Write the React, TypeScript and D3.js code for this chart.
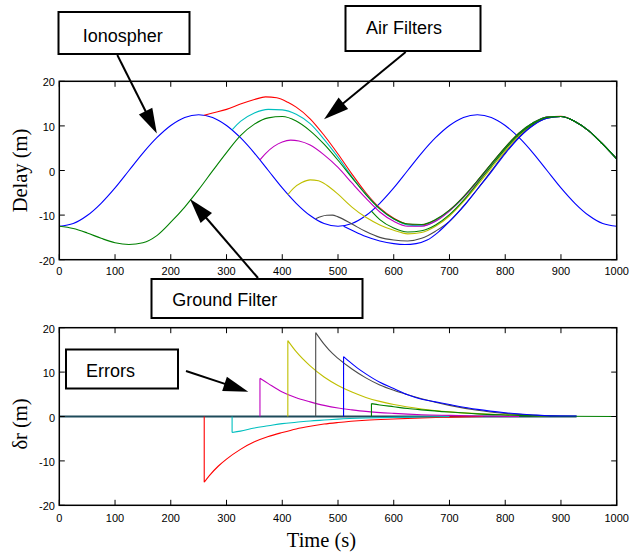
import React from 'react';
import * as d3 from 'd3';

type Pt = [number, number];

// ---------- data ----------
const timeTicks = [0, 100, 200, 300, 400, 500, 600, 700, 800, 900, 1000];
const valueTicks = [-20, -10, 0, 10, 20];

const ionosphere: Pt[] = [
  [0, -12.5], [25, -11.9], [50, -10.1], [75, -7.35], [100, -3.9], [125, 0], [150, 3.9], [175, 7.35],
  [200, 10.1], [225, 11.9], [250, 12.5], [275, 11.9], [300, 10.1], [325, 7.35], [350, 3.9], [375, 0],
  [400, -3.9], [425, -7.35], [450, -10.1], [475, -11.9], [500, -12.5], [525, -11.9], [550, -10.1],
  [575, -7.35], [600, -3.9], [625, 0], [650, 3.9], [675, 7.35], [700, 10.1], [725, 11.9], [750, 12.5],
  [775, 11.9], [800, 10.1], [825, 7.35], [850, 3.9], [875, 0], [900, -3.9], [925, -7.35], [950, -10.1],
  [975, -11.9], [1000, -12.5],
];

const groundFilter: Pt[] = [
  [0, -12.5], [25, -13.0], [50, -14.0], [75, -15.2], [100, -16.2], [125, -16.6], [150, -16.2], [175, -14.6],
  [200, -11.6], [225, -8.2], [250, -4.3], [275, -0.1], [300, 4.0], [325, 7.8], [350, 10.4], [375, 11.8],
  [400, 12.1], [425, 11.1], [450, 8.9], [475, 5.9], [500, 2.3], [525, -1.6], [550, -5.4], [575, -8.6],
  [600, -10.8], [625, -12.0], [650, -12.1], [675, -11.0], [700, -8.9], [725, -5.9], [750, -2.3], [775, 1.5],
  [800, 5.2], [825, 8.4], [850, 10.7], [875, 12.0], [900, 12.1], [925, 11.0], [950, 8.9], [975, 5.9], [1000, 2.6],
];

const airRed: Pt[] = [
  [260, 12.4], [275, 12.9], [300, 13.7], [325, 14.9], [350, 15.9], [370, 16.5], [390, 16.3], [410, 15.3],
  [425, 14.2], [450, 11.6], [475, 7.9], [500, 3.7], [525, -0.8], [550, -5.0], [575, -8.4], [600, -10.7],
  [625, -12.0], [650, -12.2], [675, -11.1], [700, -8.9], [725, -5.9], [750, -2.3], [775, 1.5], [800, 5.2],
  [825, 8.4], [850, 10.7], [875, 12.0], [900, 12.15], [925, 11.0], [950, 8.9], [975, 5.9], [1000, 2.6],
];
const airCyan: Pt[] = [
  [310, 9.1], [325, 11.0], [350, 12.9], [375, 13.7], [400, 13.6], [425, 12.6], [450, 10.5], [475, 7.0],
  [500, 3.0], [525, -1.4], [550, -5.3], [575, -8.6], [600, -10.9], [625, -12.2], [650, -12.4], [675, -11.3],
  [700, -9.0], [725, -6.0], [750, -2.4], [775, 1.4], [800, 5.1], [825, 8.4], [850, 10.7], [875, 12.0],
  [900, 12.1], [925, 11.0], [950, 8.9], [975, 5.9], [1000, 2.6],
];
const airMagenta: Pt[] = [
  [360, 2.4], [370, 3.8], [385, 5.4], [400, 6.4], [415, 6.8], [430, 6.6], [450, 5.7], [475, 3.5],
  [500, 0.7], [525, -2.8], [550, -6.2], [575, -9.3], [600, -11.4], [625, -12.5], [650, -12.5], [675, -11.4],
  [700, -9.1], [725, -6.1], [750, -2.5], [775, 1.4], [800, 5.1], [825, 8.3], [850, 10.6], [875, 12.0],
  [900, 12.1], [925, 11.0], [950, 8.9], [975, 5.9], [1000, 2.6],
];
const airYellow: Pt[] = [
  [410, -5.4], [420, -4.0], [435, -2.7], [450, -2.1], [465, -2.3], [480, -3.3], [500, -5.3], [525, -8.2],
  [550, -10.5], [575, -12.2], [600, -13.4], [625, -14.2], [650, -13.9], [675, -12.5], [700, -10.2],
  [725, -7.0], [750, -3.3], [775, 0.6], [800, 4.4], [825, 7.8], [850, 10.3], [875, 11.8], [900, 12.1],
  [925, 11.0], [950, 8.9], [975, 5.9], [1000, 2.6],
];
const airGray: Pt[] = [
  [460, -10.8], [470, -10.3], [480, -10.05], [490, -10.0], [500, -10.4], [525, -12.0], [550, -13.7],
  [575, -15.0], [600, -15.6], [625, -15.8], [650, -15.2], [675, -13.6], [700, -11.4], [725, -8.0],
  [750, -4.2], [775, -0.1], [800, 4.0], [825, 7.5], [850, 10.2], [875, 11.7], [900, 12.1], [925, 11.0],
  [950, 8.9], [975, 5.9], [1000, 2.6],
];
const airBlue: Pt[] = [
  [510, -12.5], [525, -13.4], [550, -14.8], [575, -15.8], [600, -16.4], [620, -16.6], [640, -16.4],
  [660, -15.6], [680, -13.8], [700, -11.4], [725, -8.1], [750, -4.2], [775, -0.3], [800, 3.8], [825, 7.4],
  [850, 10.1], [875, 11.7], [900, 12.1], [925, 11.0], [950, 8.9], [975, 5.9], [1000, 2.6],
];
const airGreen: Pt[] = [
  [560, -9.1], [575, -11.0], [600, -12.9], [625, -13.8], [650, -13.5], [675, -12.2], [700, -9.9],
  [725, -6.7], [750, -2.9], [775, 1.0], [800, 4.8], [825, 8.1], [850, 10.5], [875, 11.9], [900, 12.1],
  [925, 11.0], [950, 8.9], [975, 5.9], [1000, 2.6],
];

const errRed: Pt[] = [
  [260, -14.8], [270, -13.2], [285, -11.2], [300, -9.6], [325, -7.4], [350, -5.7], [375, -4.5], [400, -3.6],
  [425, -2.8], [450, -2.2], [475, -1.7], [500, -1.35], [550, -0.85], [600, -0.55], [650, -0.3], [700, -0.15], [760, 0],
];
const errCyan: Pt[] = [
  [310, -3.6], [325, -3.3], [350, -2.6], [375, -2.1], [400, -1.6], [425, -1.3], [450, -1.0], [475, -0.8],
  [500, -0.6], [550, -0.35], [600, -0.2], [650, -0.1], [700, 0],
];
const errMagenta: Pt[] = [
  [360, 8.6], [375, 7.4], [400, 5.5], [425, 4.2], [450, 3.3], [475, 2.5], [500, 1.9], [525, 1.5],
  [550, 1.15], [600, 0.7], [650, 0.4], [700, 0.25], [750, 0.12], [825, 0],
];
const errYellow: Pt[] = [
  [410, 17.1], [425, 14.6], [450, 11.4], [475, 8.9], [500, 7.0], [525, 5.5], [550, 4.3], [575, 3.4],
  [600, 2.7], [650, 1.7], [700, 1.05], [750, 0.65], [800, 0.4], [850, 0.2], [880, 0],
];
const errGray: Pt[] = [
  [460, 18.9], [475, 16.3], [490, 14.2], [500, 13.1], [525, 10.7], [550, 8.7], [575, 7.1], [600, 5.9],
  [625, 4.9], [650, 4.0], [700, 2.5], [750, 1.4], [800, 0.7], [850, 0.3], [880, 0.15], [900, 0],
];
const errBlue: Pt[] = [
  [510, 13.5], [520, 12.4], [535, 10.9], [550, 9.6], [575, 7.7], [600, 6.3], [625, 4.9], [650, 3.9],
  [675, 3.3], [700, 2.7], [750, 1.6], [800, 0.85], [850, 0.35], [880, 0.15], [928, 0.1],
];
const errGreen: Pt[] = [
  [560, 2.9], [575, 2.6], [600, 2.2], [625, 1.8], [650, 1.5], [700, 1.0], [750, 0.6], [800, 0.35],
  [850, 0.15], [900, 0.05], [1000, 0],
];

// annotation anchors (data coordinates of arrow tips)
const ionoTip: Pt = [175, 8.3];
const airTip: Pt = [475, 11.5];
const groundTip: Pt = [234.5, -6.4];
const errorsTip: Pt = [339, 5.6];

// ---------- styles ----------
const C = {
  red: '#ff0000', cyan: '#00bfbf', magenta: '#bf00bf', yellow: '#bfbf00',
  gray: '#4a4a4a', blue: '#0000ff', green: '#008000', base: '#1e4b5a',
};

const W = 630, H = 553;
const X0 = 59.3, X1 = 616.7;
const TOP = { y0: 81.3, y1: 259.7, lab: 15.5 };
const BOT = { y0: 327.7, y1: 505.3, lab: 17 };
const SANS = '"Liberation Sans", Arial, Helvetica, sans-serif';
const SERIF = '"Liberation Serif", "Times New Roman", serif';

function Frame({ x, y, panel }: { x: d3.ScaleLinear<number, number>; y: d3.ScaleLinear<number, number>; panel: typeof TOP }) {
  const tl = 5.5;
  return (
    <g>
      {timeTicks.map((t) => (
        <g key={'xt' + t}>
          <line x1={x(t)} x2={x(t)} y1={panel.y1} y2={panel.y1 - tl} stroke="#000" strokeWidth={1} />
          <line x1={x(t)} x2={x(t)} y1={panel.y0} y2={panel.y0 + tl} stroke="#000" strokeWidth={1} />
          <text x={x(t)} y={panel.y1 + panel.lab} fontSize={11} fontFamily={SANS} textAnchor="middle">{t}</text>
        </g>
      ))}
      {valueTicks.map((v) => (
        <g key={'yt' + v}>
          <line x1={X0} x2={X0 + tl} y1={y(v)} y2={y(v)} stroke="#000" strokeWidth={1} />
          <line x1={X1} x2={X1 - tl} y1={y(v)} y2={y(v)} stroke="#000" strokeWidth={1} />
          <text x={55} y={y(v) + 5} fontSize={11} fontFamily={SANS} textAnchor="end">{v}</text>
        </g>
      ))}
      <rect x={X0} y={panel.y0} width={X1 - X0} height={panel.y1 - panel.y0} fill="none" stroke="#000" strokeWidth={1.5} />
    </g>
  );
}

function Arrow({ x1, y1, x2, y2 }: { x1: number; y1: number; x2: number; y2: number }) {
  const len = 25, hw = 7.5;
  const dx = x2 - x1, dy = y2 - y1;
  const d = Math.hypot(dx, dy);
  const ux = dx / d, uy = dy / d;
  const bx = x2 - ux * len, by = y2 - uy * len;
  const pts = `${x2},${y2} ${bx - uy * hw},${by + ux * hw} ${bx + uy * hw},${by - ux * hw}`;
  return (
    <g>
      <line x1={x1} y1={y1} x2={bx + ux * 2} y2={by + uy * 2} stroke="#000" strokeWidth={2} />
      <polygon points={pts} fill="#000" />
    </g>
  );
}

function Box({ x, y, w, h, label, tx, ty }: { x: number; y: number; w: number; h: number; label: string; tx: number; ty: number }) {
  return (
    <g>
      <rect x={x} y={y} width={w} height={h} fill="#fff" stroke="#000" strokeWidth={2} />
      <text x={tx} y={ty} fontSize={18} fontFamily={SANS}>{label}</text>
    </g>
  );
}

export default function App() {
  const x = d3.scaleLinear().domain([0, 1000]).range([X0, X1]);
  const yT = d3.scaleLinear().domain([-20, 20]).range([TOP.y1, TOP.y0]);
  const yB = d3.scaleLinear().domain([-20, 20]).range([BOT.y1, BOT.y0]);

  const lineT = d3.line<Pt>().x((d) => x(d[0])).y((d) => yT(d[1])).curve(d3.curveMonotoneX);
  const lineB = d3.line<Pt>().x((d) => x(d[0])).y((d) => yB(d[1])).curve(d3.curveMonotoneX);
  const lineBLin = d3.line<Pt>().x((d) => x(d[0])).y((d) => yB(d[1]));

  const airSeries: { pts: Pt[]; color: string }[] = [
    { pts: airRed, color: C.red },
    { pts: airCyan, color: C.cyan },
    { pts: airMagenta, color: C.magenta },
    { pts: airYellow, color: C.yellow },
    { pts: airGray, color: C.gray },
    { pts: airBlue, color: C.blue },
    { pts: airGreen, color: C.green },
  ];
  const errSeries: { pts: Pt[]; color: string }[] = [
    { pts: errRed, color: C.red },
    { pts: errCyan, color: C.cyan },
    { pts: errMagenta, color: C.magenta },
    { pts: errYellow, color: C.yellow },
    { pts: errGray, color: C.gray },
    { pts: errGreen, color: C.green },
    { pts: errBlue, color: C.blue },
  ];
  const errPath = (pts: Pt[]) => {
    const [t0, v0] = pts[0];
    return (lineBLin([[t0, 0], [t0, v0]]) || '') + (lineB(pts) || '');
  };
  const baseEnd = errBlue[errBlue.length - 1][0];

  return (
    <svg width={W} height={H} style={{ position: 'absolute', left: 0, top: 0, background: '#fff' }}>
      <rect x={0} y={0} width={W} height={H} fill="#fff" />

      {/* top panel */}
      <g fill="none" strokeWidth={1.1}>
        <path d={lineT(ionosphere) || ''} stroke={C.blue} />
        {airSeries.map((s, i) => (
          <path key={i} d={lineT(s.pts) || ''} stroke={s.color} />
        ))}
        <path d={lineT(groundFilter) || ''} stroke={C.green} />
      </g>
      <Frame x={x} y={yT} panel={TOP} />

      {/* bottom panel */}
      <g fill="none" strokeWidth={1.1}>
        <path d={lineBLin([[0, 0], [baseEnd, 0]]) || ''} stroke={C.base} strokeWidth={2} />
        {errSeries.map((s, i) => (
          <path key={i} d={errPath(s.pts)} stroke={s.color} />
        ))}
      </g>
      <Frame x={x} y={yB} panel={BOT} />

      {/* axis titles */}
      <text transform={`translate(27,${(TOP.y0 + TOP.y1) / 2}) rotate(-90)`} fontSize={20.5} fontFamily={SERIF} textAnchor="middle">Delay (m)</text>
      <text transform={`translate(27,424) rotate(-90)`} fontSize={20.5} fontFamily={SERIF} textAnchor="middle">δr (m)</text>
      <text x={321.5} y={547} fontSize={20.5} fontFamily={SERIF} textAnchor="middle">Time (s)</text>

      {/* annotations */}
      <Box x={58.5} y={12} w={131} h={42} label="Ionospher" tx={82.7} ty={42} />
      <Arrow x1={117.3} y1={55} x2={x(ionoTip[0])} y2={yT(ionoTip[1])} />
      <Box x={345.5} y={6} w={135} h={45} label="Air Filters" tx={366} ty={34} />
      <Arrow x1={405.7} y1={52} x2={x(airTip[0])} y2={yT(airTip[1])} />
      <Arrow x1={258} y1={278} x2={x(groundTip[0])} y2={yT(groundTip[1])} />
      <Box x={151.5} y={279} w={211} h={39} label="Ground Filter" tx={172.3} ty={306} />
      <Box x={66} y={349.5} w={112} h={39} label="Errors" tx={86} ty={377.3} />
      <Arrow x1={186} y1={371} x2={x(errorsTip[0])} y2={yB(errorsTip[1])} />
    </svg>
  );
}
